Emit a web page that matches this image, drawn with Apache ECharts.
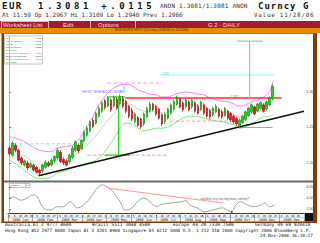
<!DOCTYPE html>
<html><head><meta charset="utf-8">
<script src="https://cdn.jsdelivr.net/npm/echarts@6.0.0/dist/echarts.min.js"></script>
<style>
html,body{margin:0;padding:0;width:320px;height:243px;overflow:hidden;background:#fff}
.t{position:absolute;white-space:nowrap;font-family:"DejaVu Sans Mono",monospace;color:#111;line-height:1}
.s{position:absolute;white-space:nowrap;font-family:"Liberation Sans",Arial,sans-serif;line-height:1;color:#f6dede;font-size:6px}
#c{position:absolute;left:0;top:33px;width:320px;height:190px}
</style></head><body>
<div class="t" style="left:2px;top:2px;font-size:9px;font-weight:bold;letter-spacing:1.5px">EUR</div>
<div class="t" style="left:38px;top:2px;font-size:9px;font-weight:bold;letter-spacing:3.6px">1.3081 +.0115</div>
<div class="t" style="left:160px;top:3px;font-size:6px;letter-spacing:0.2px;color:#333">ANON 1.3081/1.3081 ANON</div>
<div class="t" style="left:258px;top:2px;font-size:9px;font-weight:bold;letter-spacing:1px">Curncy G</div>
<div class="t" style="left:2px;top:12px;font-size:6px;color:#333">At 11:59 Op 1.2967 Hi 1.3109 Lo 1.2940 Prev 1.2966</div>
<div class="t" style="left:254px;top:12px;font-size:6px;letter-spacing:0.7px;color:#333">Value 11/28/06</div>
<div style="position:absolute;left:0;top:21px;width:320px;height:7px;background:#a51c30"></div>
<div style="position:absolute;left:1px;top:21px;width:46px;height:6px;border:0.5px solid #e8b0b8"></div>
<div style="position:absolute;left:90px;top:21px;width:0.6px;height:7px;background:#e8b0b8"></div>
<div style="position:absolute;left:135px;top:21px;width:1px;height:7px;background:#f0c0c8"></div>
<div class="s" style="left:3px;top:21.6px">Worksheet List</div>
<div class="s" style="left:63px;top:21.6px">Edit</div>
<div class="s" style="left:98px;top:21.6px">Options</div>
<div class="s" style="left:208px;top:21.6px">G 2 - DAILY</div>
<div style="position:absolute;left:0;top:28px;width:320px;height:5px;background:#e88c00"></div>
<div class="s" style="left:115px;top:28.8px;font-size:3.4px;color:#5a2a00">EUR EURO SPOT (1) Daily 12/30/05 to 11/24/06</div>
<div id="c"></div>
<div class="t" style="left:5px;top:223px;font-size:4.6px">Australia 61 2 9777 8600</div>
<div class="t" style="left:92px;top:223px;font-size:4.6px">Brazil 5511 3048 4500</div>
<div class="t" style="left:173px;top:223px;font-size:4.6px">Europe 44 20 7330 7500</div>
<div class="t" style="left:255px;top:223px;font-size:4.6px">Germany 49 69 920410</div>
<div class="t" style="left:5px;top:228.5px;font-size:4.35px">Hong Kong 852 2977 6000 Japan 81 3 3201 8900 Singapore 65 6212 1000 U.S. 1 212 318 2000 Copyright 2006 Bloomberg L.P.</div>
<div class="t" style="left:260px;top:234px;font-size:4.4px">24-Nov-2006 16:10:27</div>
<script>
// ---- data ----
const opens=[1.221,1.211,1.225,1.218,1.207,1.197,1.200,1.194,1.197,1.194,1.190,1.189,1.194,1.200,1.197,1.203,1.207,1.215,1.205,1.203,1.202,1.208,1.218,1.225,1.220,1.231,1.239,1.245,1.260,1.256,1.266,1.273,1.288,1.280,1.289,1.280,1.290,1.283,1.291,1.287,1.280,1.274,1.258,1.264,1.262,1.255,1.265,1.273,1.283,1.280,1.276,1.268,1.258,1.263,1.270,1.276,1.282,1.290,1.285,1.279,1.286,1.279,1.285,1.280,1.275,1.282,1.277,1.274,1.268,1.272,1.276,1.272,1.267,1.273,1.270,1.266,1.263,1.252,1.257,1.261,1.267,1.272,1.279,1.273,1.277,1.282,1.276,1.282,1.290];
const closes=[1.213,1.228,1.218,1.204,1.200,1.203,1.193,1.199,1.190,1.187,1.186,1.197,1.201,1.196,1.204,1.209,1.218,1.202,1.200,1.197,1.211,1.221,1.230,1.217,1.232,1.244,1.249,1.258,1.251,1.270,1.277,1.285,1.278,1.292,1.275,1.293,1.277,1.294,1.280,1.273,1.266,1.262,1.269,1.253,1.251,1.269,1.277,1.283,1.275,1.269,1.263,1.255,1.269,1.276,1.282,1.287,1.293,1.279,1.275,1.289,1.275,1.289,1.273,1.270,1.286,1.270,1.266,1.265,1.277,1.280,1.266,1.265,1.277,1.263,1.261,1.258,1.255,1.260,1.266,1.272,1.277,1.282,1.269,1.283,1.285,1.273,1.286,1.292,1.308];
const lows=[1.210,1.209,1.215,1.202,1.197,1.195,1.190,1.192,1.188,1.185,1.183,1.186,1.192,1.194,1.195,1.200,1.205,1.200,1.197,1.195,1.199,1.206,1.216,1.214,1.218,1.229,1.237,1.243,1.249,1.254,1.264,1.271,1.275,1.278,1.272,1.278,1.275,1.281,1.277,1.270,1.263,1.259,1.256,1.251,1.248,1.252,1.263,1.271,1.273,1.266,1.261,1.252,1.255,1.261,1.268,1.274,1.280,1.277,1.272,1.277,1.273,1.276,1.271,1.268,1.273,1.268,1.263,1.262,1.265,1.270,1.263,1.262,1.265,1.261,1.258,1.255,1.252,1.249,1.255,1.259,1.265,1.270,1.267,1.271,1.275,1.271,1.274,1.280,1.288];
const highs=[1.224,1.231,1.228,1.220,1.209,1.205,1.203,1.202,1.199,1.196,1.192,1.199,1.204,1.203,1.207,1.211,1.221,1.218,1.208,1.206,1.213,1.224,1.232,1.228,1.234,1.246,1.252,1.260,1.263,1.272,1.280,1.287,1.290,1.294,1.291,1.295,1.293,1.297,1.294,1.289,1.282,1.277,1.271,1.266,1.264,1.271,1.280,1.286,1.285,1.282,1.278,1.270,1.271,1.278,1.284,1.289,1.295,1.292,1.287,1.291,1.288,1.291,1.287,1.283,1.288,1.284,1.279,1.276,1.279,1.283,1.278,1.275,1.279,1.275,1.272,1.268,1.265,1.263,1.268,1.274,1.279,1.284,1.281,1.285,1.287,1.284,1.288,1.294,1.311];
const bandIdx=[0,4,7,10,14,16,19,21,23,25,27,29,31,33,35,37,39,41,43,45,47,49,51,53,55,57,59,61,63,65,67,69,71,73,75,77,79,81,83,85,87,88];
const upperBand=[1.237,1.232,1.225,1.218,1.216,1.221,1.223,1.225,1.232,1.244,1.258,1.275,1.289,1.299,1.306,1.310,1.311,1.309,1.303,1.300,1.297,1.296,1.293,1.293,1.296,1.299,1.300,1.299,1.297,1.296,1.292,1.289,1.287,1.286,1.283,1.280,1.282,1.286,1.289,1.293,1.300,1.314];
const lowerBand=[1.204,1.193,1.183,1.178,1.180,1.186,1.189,1.193,1.196,1.199,1.201,1.204,1.211,1.223,1.235,1.249,1.256,1.255,1.249,1.245,1.247,1.249,1.249,1.251,1.255,1.261,1.265,1.266,1.265,1.263,1.261,1.259,1.258,1.256,1.254,1.249,1.251,1.255,1.261,1.265,1.266,1.268];
const midBand=[1.220,1.213,1.204,1.198,1.198,1.204,1.206,1.209,1.214,1.221,1.230,1.239,1.250,1.261,1.270,1.280,1.284,1.282,1.276,1.273,1.272,1.273,1.271,1.272,1.275,1.280,1.282,1.282,1.281,1.280,1.276,1.274,1.272,1.271,1.268,1.265,1.266,1.270,1.275,1.279,1.283,1.291];
const volIdx=[-0.3,1.3,3.7,6,8,9.3,11.3,13.7,16,18,20.3,22.7,24.7,27,29.3,31,32.7,34.7,37,38.7,41,42.7,45,47,49.3,50.3,54,57.3,59,60.3,62.7,65.3,68,71.3,73,74.3,75.7,77.3,79.7,81.7,84,85.3,87,88.7];
const volVals=[4.0,4.2,3.6,4.0,4.6,4.2,2.2,1.8,2.4,2.4,3.3,2.2,2.7,4.0,5.8,6.4,6.0,5.1,3.3,1.8,2.2,3.3,4.0,3.3,2.4,2.7,3.1,3.3,3.5,2.7,2.2,1.5,1.8,2.2,1.8,1.5,2.7,3.3,2.7,2.4,2.7,3.1,2.4,2.7];
const priceTicks=[1.20,1.25,1.30];
const volTicks=[2,4,6];
const monthLabels=['2006 Jan','2006 Feb','2006 Mar','2006 Apr','2006 May','2006 Jun','2006 Jul','2006 Aug','2006 Sep','2006 Oct','2006 Nov','2006 Dec'];
// annotation levels [slot index, price]
const trendLine=[[9.7,1.182],[98.5,1.273]];
const resistance=[[38.7,1.2915],[91,1.2915]];
const measure1Top=[[32.7,1.293],[38.7,1.293]];
const measure1Stem=[[36.3,1.293],[36.3,1.212]];
const measure1Base=[[32,1.211],[40.3,1.211]];
const measure2Stem=[[80.3,1.2915],[80.3,1.3718]];
const measure2Cap=[[76,1.3718],[84.7,1.3718]];
const targetLine=[[50.3,1.324],[88.7,1.324]];
const supportA=[[26,1.211],[53,1.211]];
const supportB=[[53.7,1.259],[74.3,1.259]];
const supportC=[[77,1.250],[88,1.250]];
const greenDash=[[1.3,1.227],[22.7,1.227]];
const pinkDash=[[32.7,1.3127],[51.3,1.3127]];
const volArrow=[[33,5.8],[71.3,3.1]];

// ---- build ----
const N=99;
const cats=[];
for(let i=0;i<N;i++){const d=new Date(2006,0,1+Math.round((i+0.5)*365/N));cats.push((d.getMonth()+1)+'/'+d.getDate());}
const candleData=opens.map((o,i)=>[o,closes[i],lows[i],highs[i]]);
const zip=(a,b)=>a.map((x,i)=>[x,b[i]]);
const weekTicks=[];for(let d=1;d<365;d+=7)weekTicks.push(d);

function seg(pts,color,width,type){
  return {type:'line',xAxisIndex:1,yAxisIndex:0,data:pts,symbol:'none',silent:true,z:4,
    lineStyle:{color:color,width:width,type:type||'solid'}};
}
function arrowSeg(pts,color,width,xi,yi){
  return {type:'line',xAxisIndex:xi,yAxisIndex:yi,data:[pts[0]],symbol:'none',silent:true,z:4,lineStyle:{width:0},
    markLine:{silent:true,symbol:['none','arrow'],symbolSize:[0,4],label:{show:false},
      lineStyle:{color:color,width:width,type:'solid'},data:[[{coord:pts[0]},{coord:pts[1]}]]}};
}

const chart=echarts.init(document.getElementById('c'),null,{renderer:'svg'});
const legendRows=[['Last','1.3081','#333'],['High on 11/24/06','1.3109','#333'],['Average','1.2490','#333'],['Low on 03/01/06','1.1826','#333'],['TC Candles','','#22aa22'],['Bollinger Upper Band(20)','1.3077','#e020e0'],['Moving Avg Simple(20)','1.2906','#333'],['Bollinger Lower Band(20)','1.2735','#22aa22'],['TC E Bands','','#22aa22']];
const legendEls=[{type:'rect',shape:{x:0,y:0,width:38,height:28},style:{fill:'#fff',stroke:'#a0a0a0',lineWidth:0.6}}];
legendRows.forEach((r,k)=>{
  legendEls.push({type:'text',x:1.2,y:1.6+k*2.9,style:{text:r[0],fontSize:2.1,fill:r[2],fontFamily:'Liberation Sans Narrow, Liberation Sans'}});
  if(r[1])legendEls.push({type:'text',x:37,y:1.6+k*2.9,style:{text:r[1],fontSize:2.1,fill:r[2],align:'right',fontFamily:'Liberation Sans'}});
});

chart.setOption({
  animation:false,
  grid:[{left:8,top:3,width:296,height:145},{left:8,top:150,width:296,height:30}],
  xAxis:[
    {type:'category',gridIndex:0,data:cats,boundaryGap:true,show:false},
    {type:'value',gridIndex:0,min:-0.5,max:98.5,show:false,splitLine:{show:false}},
    {type:'value',gridIndex:1,min:-0.5,max:98.5,show:false,splitLine:{show:false}},
    {type:'category',gridIndex:1,data:monthLabels,boundaryGap:true,position:'bottom',
      axisLine:{show:true,lineStyle:{color:'#333',width:1}},
      axisTick:{show:true,length:9,interval:0,lineStyle:{color:'#777',width:0.6}},
      axisLabel:{interval:0,fontSize:3.4,margin:5.4,color:'#222',fontFamily:'DejaVu Sans Mono'}},
    {type:'value',gridIndex:1,min:0,max:365,position:'bottom',axisLine:{show:false},splitLine:{show:false},
      axisTick:{show:true,customValues:weekTicks,length:4,lineStyle:{color:'#aaa',width:0.5}},
      axisLabel:{customValues:weekTicks,fontSize:2.8,margin:1.2,color:'#333',fontFamily:'DejaVu Sans Mono',
        formatter:v=>String(new Date(2006,0,1+v).getDate())}}
  ],
  yAxis:[
    {type:'value',gridIndex:0,position:'right',min:1.1746,max:1.3789,splitLine:{show:false},
      axisLine:{show:true,lineStyle:{color:'#b8b8b8',width:1}},
      axisTick:{show:true,customValues:priceTicks,length:1.5,lineStyle:{color:'#666'}},
      axisLabel:{customValues:priceTicks,formatter:v=>v.toFixed(2),fontSize:3.6,margin:2.5,color:'#444'}},
    {type:'value',gridIndex:1,position:'right',min:1.25,max:6.75,splitLine:{show:false},
      axisLine:{show:true,lineStyle:{color:'#b8b8b8',width:1}},
      axisTick:{show:true,customValues:volTicks,length:1.5,lineStyle:{color:'#666'}},
      axisLabel:{customValues:volTicks,formatter:v=>v.toFixed(2),fontSize:3.6,margin:2.5,color:'#444'}}
  ],
  series:[
    seg(greenDash,'#99ee99',0.9,'dashed'),
    seg(supportA,'#ff9090',0.9,'dashed'),
    seg(supportB,'#ff9090',0.9,'dashed'),
    seg(supportC,'#ff8080',1,'solid'),
    seg(pinkDash,'#ff99ff',1,'dashed'),
    seg(targetLine,'#88ffff',1,'solid'),
    {type:'line',xAxisIndex:1,yAxisIndex:0,data:zip(bandIdx,midBand),symbol:'none',smooth:0.3,silent:true,z:3,lineStyle:{color:'#bdbdbd',width:0.7}},
    {type:'line',xAxisIndex:1,yAxisIndex:0,data:zip(bandIdx,upperBand),symbol:'none',smooth:0.3,silent:true,z:3,lineStyle:{color:'#ff77ff',width:1}},
    {type:'line',xAxisIndex:1,yAxisIndex:0,data:zip(bandIdx,lowerBand),symbol:'none',smooth:0.3,silent:true,z:3,lineStyle:{color:'#77ee77',width:1}},
    {type:'candlestick',xAxisIndex:0,yAxisIndex:0,data:candleData,barWidth:2,z:5,
      itemStyle:{color:'#22cc22',color0:'#dd2222',borderColor:'#119911',borderColor0:'#aa1111',borderWidth:0.7}},
    seg(resistance,'#ff3030',1.5,'solid'),
    seg(measure1Top,'#22dd22',1.2),
    seg(measure1Base,'#22dd22',1.2),
    arrowSeg(measure1Stem,'#22dd22',1.2,1,0),
    seg(measure2Stem,'#99cc99',1.2),
    seg(measure2Cap,'#99cc99',1.2),
    seg(trendLine,'#111111',1.6),
    {type:'line',xAxisIndex:1,yAxisIndex:0,data:[],symbol:'none',silent:true,
      markPoint:{silent:true,data:[
        {coord:[24.3,1.300],symbol:'circle',symbolSize:0,label:{show:true,position:'right',distance:0,formatter:'SHORT TERM BULL DOMINANT',fontSize:2.9,color:'#6f6fff'}},
        {coord:[38.3,1.3056],symbol:'circle',symbolSize:3,itemStyle:{color:'#66ffff'},label:{show:false}},
        {coord:[50.5,1.3265],symbol:'circle',symbolSize:0,label:{show:true,position:'right',distance:0,formatter:'1.3240',fontSize:2.8,color:'#40d0d0'}},
        {coord:[74,1.2925],symbol:'circle',symbolSize:0,label:{show:true,position:'right',distance:0,formatter:'1.2915',fontSize:2.6,color:'#777'}}
      ]}},
    {type:'line',xAxisIndex:2,yAxisIndex:1,data:zip(volIdx,volVals),symbol:'none',smooth:0.4,silent:true,lineStyle:{color:'#8c8c8c',width:0.8},
      markPoint:{silent:true,data:[
        {coord:[74.3,1.5],symbol:'triangle',symbolSize:3,itemStyle:{color:'#666'},label:{show:false}},
        {coord:[72,3.8],symbol:'circle',symbolSize:0,label:{show:true,position:'inside',formatter:'volatility very low, big move coming?',fontSize:3,color:'#666'}}
      ]}},
    arrowSeg(volArrow,'#ff8888',0.9,2,1)
  ],
  graphic:[
    {type:'rect',z:-10,shape:{x:4,y:180,width:309,height:8.5},style:{fill:'#f3f3f3'}},
    {type:'rect',z:-9,shape:{x:8,y:184.2,width:296,height:0.5},style:{fill:'#bbb'}},
    {type:'rect',z:50,shape:{x:305,y:180,width:8,height:8.5},style:{fill:'#111'}},
    {type:'rect',z:50,shape:{x:4,y:147.6,width:309,height:2},style:{fill:'#6a6a6a'}},
    {type:'rect',z:60,shape:{x:1.5,y:0,width:2.5,height:190},style:{fill:'#7a3d0e'}},
    {type:'rect',z:60,shape:{x:313,y:0,width:4,height:190},style:{fill:'#7a3d0e'}},
    {type:'rect',z:60,shape:{x:1.5,y:188.5,width:315.5,height:1.5},style:{fill:'#7a3d0e'}},
    {type:'rect',z:60,shape:{x:1.5,y:0,width:315.5,height:0.7},style:{fill:'#8a4a10'}},
    {type:'group',x:4.5,y:3,z:70,children:legendEls},
    {type:'group',x:10,y:150.5,z:70,children:[
      {type:'rect',shape:{x:0,y:0,width:20,height:4},style:{fill:'#fff',stroke:'#888',lineWidth:0.5}},
      {type:'rect',shape:{x:15,y:0,width:0.5,height:4},style:{fill:'#888'}},
      {type:'text',x:1,y:0.8,style:{text:'Volatility',fontSize:2.5,fill:'#444'}},
      {type:'text',x:16,y:0.8,style:{text:'30',fontSize:2.5,fill:'#444'}}
    ]}
  ]
});
</script>
</body></html>
